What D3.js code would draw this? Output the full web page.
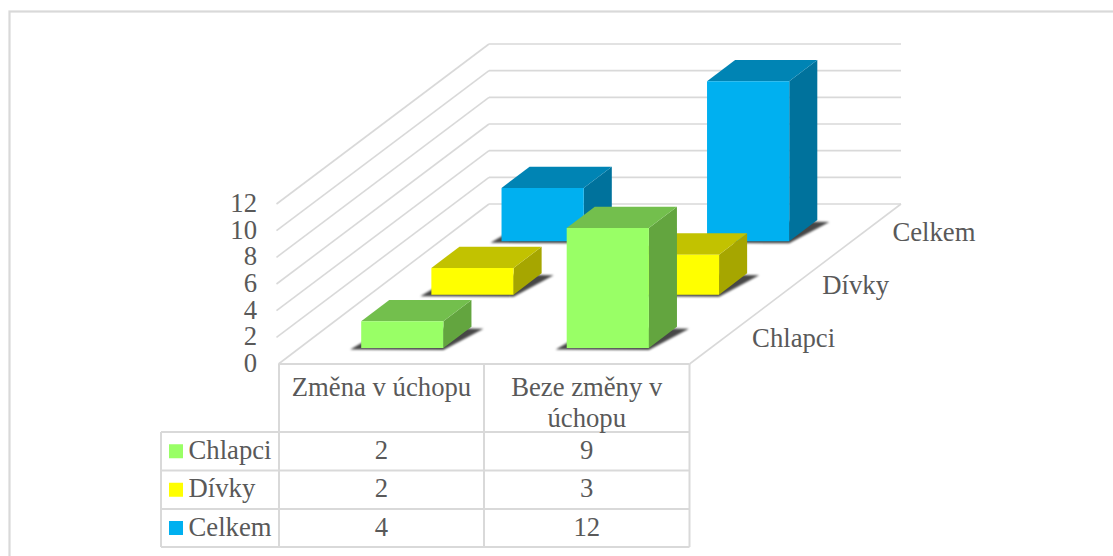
<!DOCTYPE html>
<html>
<head>
<meta charset="utf-8">
<script src="https://cdnjs.cloudflare.com/ajax/libs/d3/7.8.5/d3.min.js"></script>
<style>
  html, body { margin: 0; padding: 0; background: #fff; }
  svg { display: block; font-family: "Liberation Serif", serif; }
</style>
</head>
<body>
<script>
const width = 1113;
const height = 556;

// data
const categories = ['Změna v úchopu', 'Beze změny v úchopu'];
const seriesNames = ['Chlapci', 'Dívky', 'Celkem'];
const chlapci = [2, 9];
const divky = [2, 3];
const celkem = [4, 12];
const yTicks = [0, 2, 4, 6, 8, 10, 12];

const seriesValues = [chlapci, divky, celkem];
const frontColors = ['#99ff66', '#ffff00', '#00b0f0'];
const topColors = ['#73bf4d', '#c2c200', '#0084b4'];
const sideColors = ['#63a53f', '#a6a600', '#00729c'];

const textColor = '#595959';
const gridColor = '#d9d9d9';
const fontSize = 26.7;

// floor and wall geometry
const left = 278.5, right = 689.5, floorY = 364, topY = 204;
const depthX = 210.5, depthY = -160;

const x = d3.scaleBand().domain(d3.range(categories.length))
    .range([left, right]).paddingInner(0.6).paddingOuter(0.3);
const z = d3.scaleBand().domain(d3.range(seriesNames.length))
    .range([0, 1]).paddingInner(0.6).paddingOuter(0.3);
const y = d3.scaleLinear().domain([0, 12]).range([floorY, topY]);

// screen position of a point: px on the front edge, value v, depth d (0..1)
const pt = (px, v, d) => [px + d * depthX, y(v) + d * depthY];
const poly = pts => pts.map(p => p.join(',')).join(' ');

const svg = d3.select('body').append('svg')
    .attr('width', width)
    .attr('height', height);

const defs = svg.append('defs');
defs.append('filter').attr('id', 'soft')
    .attr('x', '-20%').attr('y', '-20%').attr('width', '140%').attr('height', '140%')
  .append('feGaussianBlur').attr('stdDeviation', 1.2);

// chart border
svg.append('rect')
    .attr('x', 9.5).attr('y', 11.5)
    .attr('width', 1130).attr('height', 600)
    .attr('fill', 'white')
    .attr('stroke', gridColor).attr('stroke-width', 2.2);

// gridlines: back wall and left wall
const grid = svg.append('g').attr('stroke', gridColor).attr('stroke-width', 1.6).attr('fill', 'none');
grid.selectAll('line.back').data(yTicks).enter().append('line')
    .attr('class', 'back')
    .attr('x1', left + depthX).attr('x2', right + depthX + 1)
    .attr('y1', d => y(d) + depthY).attr('y2', d => y(d) + depthY);
grid.selectAll('line.side').data(yTicks).enter().append('line')
    .attr('class', 'side')
    .attr('x1', d => d === 0 ? left : left - 2).attr('x2', left + depthX)
    .attr('y1', d => y(d)).attr('y2', d => y(d) + depthY);
grid.append('line')
    .attr('x1', right).attr('y1', floorY)
    .attr('x2', right + depthX + 1).attr('y2', floorY + depthY);

// value axis
const axis = svg.append('g')
    .attr('transform', 'translate(257,-1)')
    .call(d3.axisLeft(y).tickValues(yTicks).tickSize(0).tickPadding(0));
axis.select('.domain').remove();
axis.selectAll('text')
    .attr('fill', textColor)
    .style('font-family', '"Liberation Serif", serif')
    .style('font-size', fontSize + 'px');

// bars, painted back to front
const bars = [];
d3.range(seriesNames.length).reverse().forEach(s => {
    d3.range(categories.length).forEach(c => {
        bars.push({s, c, value: seriesValues[s][c]});
    });
});

const bar = svg.selectAll('g.bar').data(bars).enter().append('g').attr('class', 'bar');

bar.append('polygon')
    .attr('fill', '#000').attr('fill-opacity', 0.72)
    .attr('filter', 'url(#soft)')
    .attr('points', d => {
        const x0 = x(d.c), x1 = x0 + x.bandwidth();
        const d0 = z(d.s), d1 = d0 + z.bandwidth();
        const a = pt(x0, 0, d0), b = pt(x1, 0, d0), e = pt(x1, 0, d1), f = pt(x0, 0, d1);
        return poly([[a[0] - 11, a[1] + 1.5], [b[0], b[1] + 2], [e[0] + 12, e[1] + 2], [f[0], f[1]]]);
    });

bar.append('polygon')
    .attr('fill', d => sideColors[d.s])
    .attr('points', d => {
        const x1 = x(d.c) + x.bandwidth();
        const d0 = z(d.s), d1 = d0 + z.bandwidth();
        return poly([pt(x1, 0, d0), pt(x1, 0, d1), pt(x1, d.value, d1), pt(x1, d.value, d0)]);
    });

bar.append('polygon')
    .attr('fill', d => topColors[d.s])
    .attr('points', d => {
        const x0 = x(d.c), x1 = x0 + x.bandwidth();
        const d0 = z(d.s), d1 = d0 + z.bandwidth();
        return poly([pt(x0, d.value, d0), pt(x1, d.value, d0), pt(x1, d.value, d1), pt(x0, d.value, d1)]);
    });

bar.append('polygon')
    .attr('fill', d => frontColors[d.s])
    .attr('points', d => {
        const x0 = x(d.c), x1 = x0 + x.bandwidth();
        const d0 = z(d.s);
        return poly([pt(x0, 0, d0), pt(x1, 0, d0), pt(x1, d.value, d0), pt(x0, d.value, d0)]);
    });

// depth axis labels
svg.selectAll('text.depth').data(seriesNames).enter().append('text')
    .attr('class', 'depth')
    .attr('x', (d, i) => pt(right, 0, z(i) + z.bandwidth() / 2)[0] + 27.5)
    .attr('y', (d, i) => pt(right, 0, z(i) + z.bandwidth() / 2)[1] + 2)
    .attr('dy', '0.3em')
    .attr('fill', textColor)
    .attr('font-size', fontSize)
    .text(d => d);

// data table under the chart
const tableLeft = 161, colX = [279, 484, 689.5];
const rowY = [364, 432, 470.5, 509, 547];
const table = svg.append('g');
const tableLines = table.append('g').attr('stroke', gridColor).attr('stroke-width', 2);

tableLines.selectAll('line.v').data(colX).enter().append('line')
    .attr('x1', d => d).attr('x2', d => d)
    .attr('y1', rowY[0]).attr('y2', rowY[4]);
tableLines.append('line')
    .attr('x1', tableLeft).attr('x2', tableLeft)
    .attr('y1', rowY[1]).attr('y2', rowY[4]);
tableLines.selectAll('line.h').data(rowY).enter().append('line')
    .attr('x1', (d, i) => i === 0 ? colX[0] : tableLeft).attr('x2', colX[2])
    .attr('y1', d => d).attr('y2', d => d);

const cellText = table.append('g')
    .attr('fill', textColor)
    .attr('font-size', fontSize)
    .attr('text-anchor', 'middle');
const colMid = i => (colX[i] + colX[i + 1]) / 2;

cellText.append('text').attr('x', colMid(0)).attr('y', 396).text(categories[0]);
cellText.append('text').attr('x', colMid(1)).attr('y', 396).text('Beze změny v');
cellText.append('text').attr('x', colMid(1)).attr('y', 427).text('úchopu');

seriesNames.forEach((name, s) => {
    const mid = (rowY[s + 1] + rowY[s + 2]) / 2;
    table.append('rect')
        .attr('x', 169).attr('y', mid - 7).attr('width', 14).attr('height', 14)
        .attr('fill', frontColors[s]);
    table.append('text')
        .attr('x', 188.5).attr('y', mid - 1).attr('dy', '0.32em')
        .attr('fill', textColor).attr('font-size', fontSize)
        .text(name);
    seriesValues[s].forEach((v, c) => {
        cellText.append('text').attr('x', colMid(c)).attr('y', mid - 1).attr('dy', '0.32em').text(v);
    });
});
</script>
</body>
</html>
